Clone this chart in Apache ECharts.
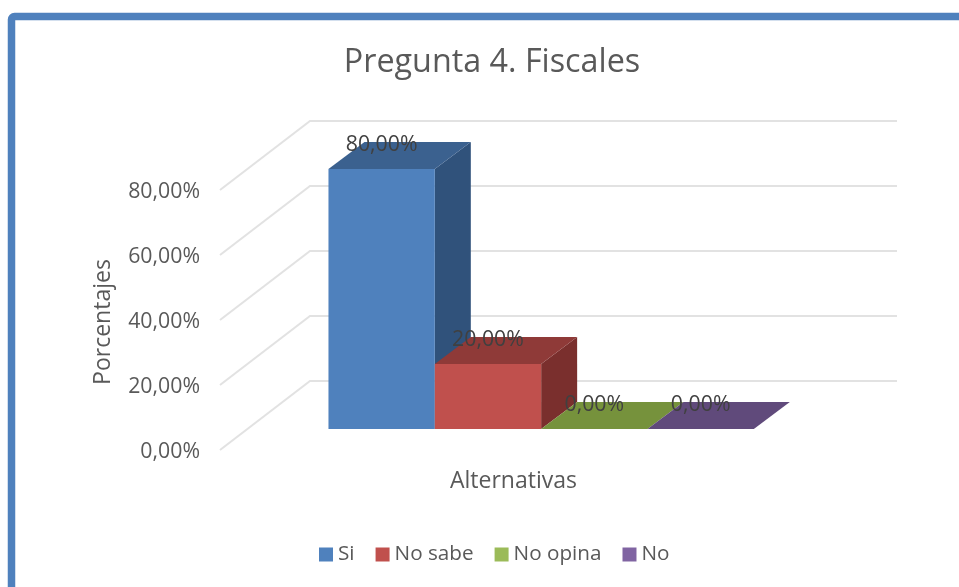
<!DOCTYPE html>
<html>
<head>
<meta charset="utf-8">
<style>
  html, body { margin: 0; padding: 0; background: #fff; overflow: hidden; }
  #chart { width: 959px; height: 587px; filter: blur(0.4px); }
</style>
</head>
<body>
<div id="chart"></div>
<script src="https://cdn.jsdelivr.net/npm/echarts@6/dist/echarts.min.js"></script>
<script>
const categories = ['Si', 'No sabe', 'No opina', 'No'];
const values = [80, 20, 0, 0];
const tickValues = [0, 20, 40, 60, 80];

const frontColors = ['#4f81bd', '#c0504d', '#9bbb59', '#8064a2'];
const topColors = ['#3b618f', '#8f3a38', '#76923c', '#604a7b'];
const sideColors = ['#30527b', '#7a2f2d', '#5f7530', '#4d3b63'];

const FONT = '"Open Sans", "Noto Sans", sans-serif';
const DEPTH_X = 90;
const DEPTH_Y = 69;
const BAR_DX = 36;
const BAR_DY = 27;
const FLOOR_LIFT = 23;
const WALL_LIFT = 2;

function pct(v) {
  return v.toFixed(2).replace('.', ',') + '%';
}

function renderWall(params, api) {
  const v = api.value(0);
  const left = api.coord([-1.02, v]);
  const right = api.coord([4.5, v]);
  left[1] -= WALL_LIFT;
  right[1] -= WALL_LIFT;
  return {
    type: 'polyline',
    silent: true,
    shape: {
      points: [left, [left[0] + DEPTH_X, left[1] - DEPTH_Y], [right[0] + DEPTH_X, right[1] - DEPTH_Y]],
    },
    style: { stroke: '#e2e2e2', lineWidth: 2, fill: null },
  };
}

function renderBar(params, api) {
  const i = api.value(0);
  const v = api.value(1);
  const tl = api.coord([i, v]);
  const tr = api.coord([i + 1, v]);
  const bl = api.coord([i, 0]);
  const br = api.coord([i + 1, 0]);
  [tl, tr, bl, br].forEach((p) => { p[1] -= FLOOR_LIFT; });
  const back = (p) => [p[0] + BAR_DX, p[1] - BAR_DY];
  const children = [];
  if (v > 0) {
    children.push({
      type: 'polygon',
      shape: { points: [tr, br, back(br), back(tr)] },
      style: { fill: sideColors[i] },
    });
    children.push({
      type: 'polygon',
      shape: { points: [tl, tr, br, bl] },
      style: { fill: frontColors[i] },
    });
  }
  children.push({
    type: 'polygon',
    shape: { points: [tl, tr, back(tr), back(tl)] },
    style: { fill: topColors[i] },
  });
  children.push({
    type: 'text',
    z2: 10,
    style: {
      text: pct(v),
      x: (tl[0] + tr[0]) / 2,
      y: tl[1] - 24.5,
      align: 'center',
      verticalAlign: 'middle',
      fill: '#404040',
      font: '21.3px ' + FONT,
    },
  });
  return { type: 'group', children };
}

const chart = echarts.init(document.getElementById('chart'));

chart.setOption({
  animation: false,
  backgroundColor: '#fff',
  textStyle: { fontFamily: FONT },
  title: {
    text: 'Pregunta 4. Fiscales',
    left: 487,
    top: 42,
    textAlign: 'center',
    textStyle: { color: '#595959', fontSize: 32.3, fontWeight: 'normal', fontFamily: FONT },
  },
  legend: {
    data: categories,
    left: 314,
    top: 539,
    icon: 'rect',
    itemWidth: 14,
    itemHeight: 14,
    itemGap: 21,
    selectedMode: false,
    textStyle: { color: '#595959', fontSize: 20.7, fontFamily: FONT },
  },
  grid: { left: 220, top: 192, width: 587, height: 260 },
  xAxis: {
    type: 'value',
    min: -1.02,
    max: 4.5,
    name: 'Alternativas',
    nameLocation: 'middle',
    nameGap: 18,
    nameTextStyle: { color: '#595959', fontSize: 23, fontFamily: FONT },
    axisLine: { show: false },
    axisTick: { show: false },
    axisLabel: { show: false },
    splitLine: { show: false },
  },
  yAxis: {
    type: 'value',
    min: 0,
    max: 80,
    interval: 20,
    name: 'Porcentajes',
    nameLocation: 'middle',
    nameGap: 105,
    nameTextStyle: { color: '#595959', fontSize: 23, fontFamily: FONT },
    axisLine: { show: false },
    axisTick: { show: false },
    axisLabel: {
      margin: 20,
      color: '#595959',
      fontSize: 21.3,
      fontFamily: FONT,
      formatter: pct,
    },
    splitLine: { show: false },
  },
  graphic: [
    {
      type: 'rect',
      z: -1,
      silent: true,
      shape: { x: 11.5, y: 16.5, width: 1000, height: 700, r: 3 },
      style: { fill: null, stroke: '#4f81bd', lineWidth: 7.5 },
    },
  ],
  series: [
    {
      name: 'walls',
      type: 'custom',
      coordinateSystem: 'cartesian2d',
      clip: false,
      silent: true,
      renderItem: renderWall,
      encode: { y: 0 },
      data: tickValues.map((v) => [v]),
    },
  ].concat(categories.map((name, i) => ({
    name,
    type: 'custom',
    coordinateSystem: 'cartesian2d',
    clip: false,
    renderItem: renderBar,
    itemStyle: { color: frontColors[i] },
    encode: { x: 0, y: 1 },
    data: [[i, values[i]]],
  }))),
});
</script>
</body>
</html>
